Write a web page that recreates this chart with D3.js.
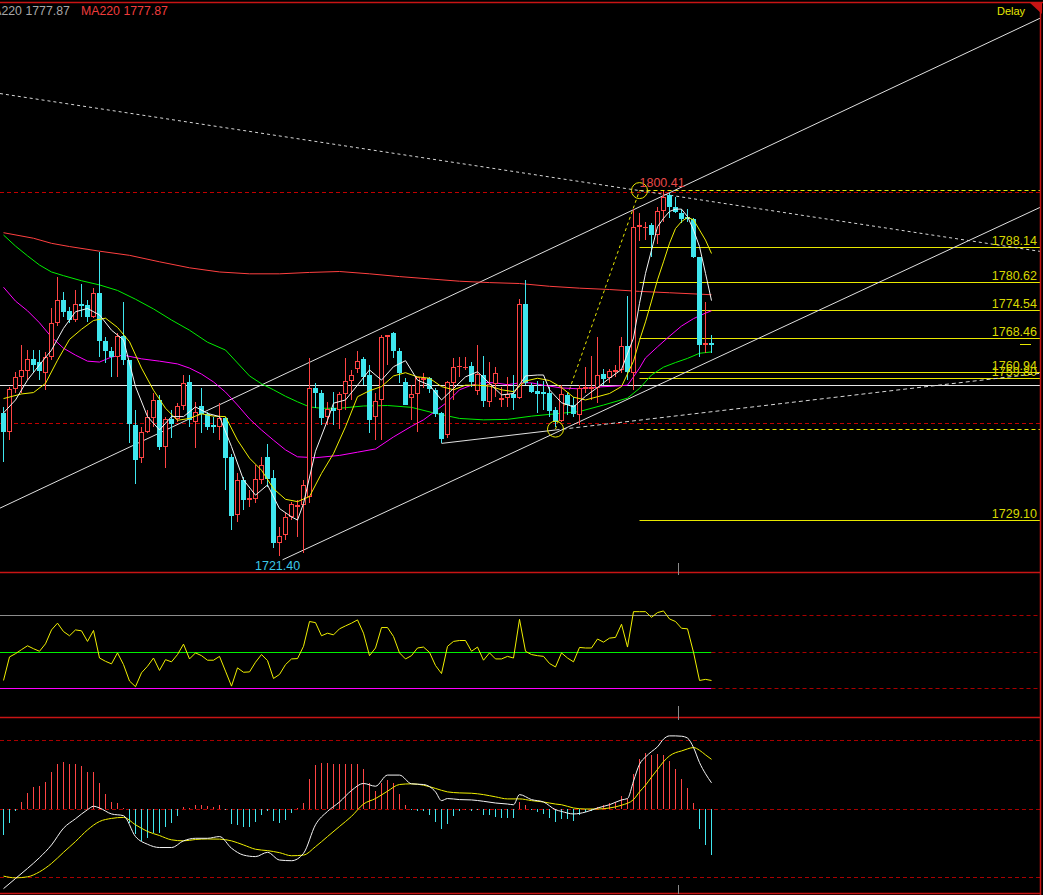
<!DOCTYPE html>
<html>
<head>
<meta charset="utf-8">
<script src="https://cdn.jsdelivr.net/npm/d3@7"></script>
<style>
  body { margin: 0; background: #000; overflow: hidden; }
  #chart { width: 1043px; height: 895px; }
  text { font-family: "Liberation Sans", Arial, sans-serif; }
</style>
</head>
<body>
<div id="chart"></div>
<script>
/*
 *  DATA BLOCK STARTS
 */
// candles, oldest first (one every bar)
var opens = [1752.2,1748.2,1757.4,1760.0,1761.4,1764.0,1763.3,1761.0,1764.5,1771.8,
    1776.7,1774.4,1772.4,1775.9,1775.7,1773.0,1778.2,1767.9,1765.7,1764.5,
    1768.9,1763.7,1749.7,1742.5,1748.1,1751.1,1755.2,1745.0,1751.0,1750.9,
    1753.9,1759.0,1750.4,1753.8,1752.1,1749.7,1749.3,1751.1,1742.8,1730.1,
    1737.7,1733.4,1733.6,1737.8,1742.8,1738.2,1724.2,1725.8,1729.7,1732.0,
    1732.3,1734.1,1757.6,1756.5,1751.5,1753.4,1752.9,1756.4,1759.1,1761.9,
    1763.9,1760.5,1751.5,1755.1,1768.8,1769.5,1765.8,1758.9,1755.6,1756.3,
    1759.4,1759.8,1757.3,1752.2,1747.5,1758.8,1762.2,1762.1,1762.4,1757.0,
    1760.6,1754.6,1758.6,1755.2,1755.6,1756.3,1755.6,1775.9,1758.2,1757.0,
    1756.9,1756.5,1752.9,1750.6,1756.2,1754.0,1751.8,1757.4,1757.5,1757.6,
    1760.7,1759.8,1761.2,1761.6,1766.8,1761.0,1792.5,1792.5,1793.0,1790.8,
    1796.1,1799.5,1796.8,1795.6,1794.6,1794.2,1786.0,1767.1,1767.5];
var highs = [1753.6,1758.0,1761.2,1767.0,1765.9,1765.9,1765.9,1765.5,1774.9,1781.8,
    1778.5,1775.3,1778.9,1780.3,1776.7,1779.3,1787.2,1768.8,1766.6,1769.5,
    1776.4,1763.7,1752.9,1749.3,1752.9,1756.5,1756.2,1751.5,1752.9,1754.4,
    1760.6,1760.5,1754.7,1757.6,1752.6,1751.5,1754.4,1751.5,1743.5,1739.2,
    1738.5,1735.6,1741.0,1742.8,1745.6,1739.9,1727.7,1730.6,1733.1,1733.4,
    1737.7,1764.1,1758.7,1757.3,1754.7,1756.9,1756.9,1764.1,1761.6,1765.6,
    1764.3,1762.7,1756.5,1769.2,1769.2,1769.9,1766.3,1759.8,1758.3,1760.1,
    1760.9,1760.1,1757.6,1752.6,1759.1,1764.1,1764.3,1764.3,1763.4,1767.0,
    1764.6,1763.4,1762.3,1757.9,1760.1,1760.5,1776.9,1781.1,1758.7,1759.1,
    1759.1,1758.0,1753.6,1758.3,1756.5,1755.8,1758.3,1762.3,1764.6,1768.8,
    1761.9,1761.7,1762.7,1768.8,1777.5,1796.4,1795.5,1793.7,1793.5,1796.9,
    1800.41,1799.8,1799.1,1796.4,1796.4,1794.4,1786.0,1776.4,1769.2];
var lows = [1741.7,1746.4,1756.5,1756.5,1759.4,1760.9,1759.4,1757.3,1763.7,1771.0,
    1773.1,1771.7,1772.0,1773.1,1772.0,1772.8,1764.5,1763.0,1760.1,1760.1,
    1762.7,1745.7,1737.0,1741.4,1747.9,1749.3,1744.3,1740.3,1746.8,1750.4,
    1752.9,1749.3,1744.6,1747.9,1748.6,1747.9,1746.4,1735.6,1726.9,1728.7,
    1731.3,1732.0,1732.7,1737.0,1736.3,1723.0,1721.4,1724.8,1729.1,1725.5,
    1721.9,1732.7,1753.3,1749.7,1749.7,1749.7,1748.9,1752.9,1755.1,1760.9,
    1758.3,1747.9,1746.4,1746.4,1762.7,1764.1,1758.7,1754.0,1750.8,1748.2,
    1757.6,1756.5,1751.5,1745.7,1746.8,1755.1,1760.1,1761.6,1757.9,1756.2,
    1753.6,1753.6,1755.8,1753.6,1753.6,1752.9,1755.4,1758.3,1756.5,1752.2,
    1752.9,1751.5,1749.3,1750.4,1751.8,1751.5,1749.7,1756.5,1755.1,1754.4,
    1758.3,1758.7,1760.1,1760.9,1759.4,1757.3,1789.4,1789.7,1786.0,1788.9,
    1793.7,1794.4,1795.6,1793.5,1793.7,1785.8,1764.3,1765.3,1765.3];
var closes = [1748.2,1757.4,1760.1,1761.6,1763.9,1762.7,1761.3,1764.5,1771.7,1776.7,
    1774.2,1772.4,1775.9,1775.5,1773.0,1778.2,1767.9,1765.8,1764.3,1768.9,
    1763.7,1749.8,1742.1,1748.2,1751.5,1755.2,1745.0,1750.9,1749.8,1753.8,
    1758.8,1750.8,1752.4,1752.0,1749.3,1749.3,1751.3,1742.5,1730.0,1737.7,
    1733.4,1733.9,1737.9,1741.0,1737.9,1724.2,1725.6,1729.8,1732.6,1732.3,
    1736.8,1757.6,1756.7,1751.3,1753.2,1752.8,1756.3,1759.2,1760.6,1763.5,
    1760.1,1750.8,1754.9,1768.8,1769.1,1765.6,1760.9,1754.1,1756.3,1760.0,
    1759.9,1757.4,1752.1,1746.6,1758.9,1762.3,1762.4,1762.3,1758.9,1760.7,
    1754.9,1758.6,1761.0,1755.6,1756.3,1755.6,1775.8,1758.7,1756.9,1756.4,
    1756.4,1752.8,1750.4,1756.3,1754.0,1752.0,1757.6,1757.8,1758.0,1760.6,
    1759.7,1761.4,1761.6,1766.8,1761.2,1792.5,1793.0,1792.6,1790.7,1796.1,
    1799.1,1796.8,1795.8,1794.3,1794.2,1786.0,1767.1,1767.5,1767.1];

// moving averages, [bar, price]
var ma5 = [[0,1752.3],[2,1755.1],[4,1759.4],[6,1762.7],[8,1765.9],[10,1770.6],[12,1774.2],[14,1774.9],
    [16,1773.5],[18,1770.2],[20,1768.1],[22,1758.0],[24,1751.5],[26,1748.6],[28,1751.5],[30,1751.5],
    [32,1753.6],[34,1752.2],[36,1751.5],[38,1745.0],[40,1737.8],[42,1734.5],[44,1736.7],[46,1731.6],
    [48,1729.8],[49,1729.1],[50,1732.7],[52,1744.0],[54,1750.7],[55,1754.4],[57,1755.1],[59,1758.3],
    [61,1761.6],[63,1759.4],[65,1762.3],[67,1763.6],[69,1759.4],[71,1758.3],[73,1755.1],[75,1757.6],
    [77,1760.1],[79,1761.2],[81,1758.7],[83,1756.2],[85,1756.5],[87,1760.3],[89,1760.5],[90,1760.5],
    [91,1757.3],[93,1754.5],[95,1753.6],[97,1755.9],[99,1757.8],[101,1759.8],[103,1761.7],[105,1768.5],
    [106,1776.0],[107,1782.5],[108,1787.5],[109,1792.6],[110,1794.4],[111,1795.9],[112,1796.4],
    [113,1796.4],[114,1794.8],[115,1791.9],[116,1788.3],[117,1782.5],[118,1776.6]];
var ma10 = [[0,1755.4],[3,1756.4],[5,1756.7],[7,1758.7],[9,1763.7],[11,1768.2],[13,1770.4],[15,1772.3],
    [17,1772.8],[19,1770.8],[21,1767.7],[23,1762.0],[25,1757.2],[27,1753.3],[29,1750.7],[31,1751.1],
    [33,1752.1],[35,1751.6],[37,1751.5],[39,1746.4],[41,1742.5],[43,1739.9],[45,1735.9],[47,1733.6],
    [49,1733.1],[51,1734.2],[53,1739.2],[55,1743.5],[57,1749.3],[59,1755.8],[61,1757.1],[63,1758.0],
    [65,1760.3],[67,1761.0],[69,1760.1],[71,1759.8],[73,1758.0],[75,1757.3],[77,1758.3],[79,1758.3],
    [81,1758.1],[83,1757.3],[85,1756.9],[87,1759.2],[89,1759.8],[91,1759.3],[93,1757.8],[95,1755.7],
    [97,1755.1],[99,1755.8],[101,1756.5],[103,1758.0],[105,1763.5],[106,1768.0],[107,1772.0],
    [108,1776.5],[109,1781.1],[110,1785.0],[111,1789.0],[112,1792.2],[113,1793.7],[114,1794.6],
    [115,1794.1],[116,1791.9],[117,1789.7],[118,1786.8]];
var ma30 = [[0,1779.5],[2,1776.5],[4,1774.4],[6,1771.8],[8,1768.7],[10,1766.3],[12,1764.8],[14,1763.5],
    [16,1763.3],[18,1764.4],[20,1764.8],[23,1764.0],[26,1763.5],[29,1762.9],[31,1762.0],[33,1760.7],
    [35,1759.0],[37,1756.8],[39,1754.0],[41,1751.0],[43,1748.6],[45,1746.4],[47,1744.3],[49,1742.8],
    [52,1742.6],[56,1743.1],[59,1743.8],[62,1744.5],[65,1747.1],[68,1749.4],[70,1750.8],[72,1752.7],
    [74,1754.7],[76,1757.3],[78,1758.3],[80,1758.9],[82,1758.8],[84,1758.4],[86,1758.8],[88,1758.8],
    [90,1758.3],[93,1757.7],[96,1757.5],[99,1757.9],[102,1758.1],[104,1758.3],[105,1760.1],[106,1762.0],
    [107,1764.2],[109,1766.6],[111,1768.9],[113,1771.1],[115,1772.7],[117,1773.9],[118,1774.4]];
var ma60 = [[0,1790.8],[2,1788.4],[4,1786.3],[6,1784.3],[8,1782.8],[10,1782.0],[13,1780.9],[16,1780.0],
    [19,1778.8],[22,1776.9],[25,1774.8],[28,1772.4],[31,1770.2],[34,1767.6],[37,1765.9],[39,1763.1],
    [41,1760.3],[43,1758.6],[45,1757.3],[47,1755.9],[49,1754.7],[51,1753.6],[53,1753.3],[56,1753.3],
    [60,1753.8],[64,1753.9],[68,1753.5],[72,1752.2],[76,1751.1],[80,1750.8],[84,1750.9],[88,1751.6],
    [92,1752.1],[96,1752.6],[100,1754.0],[104,1755.5],[106,1757.6],[108,1760.5],[110,1762.2],
    [112,1763.2],[114,1764.1],[116,1765.2],[118,1765.5]];
var ma220 = [[0,1791.3],[5,1790.1],[8,1789.0],[11,1788.3],[16,1787.3],[21,1786.4],[26,1785.0],[31,1783.7],
    [36,1782.8],[41,1782.4],[46,1782.4],[51,1782.7],[56,1782.9],[61,1782.4],[66,1781.8],[71,1781.3],
    [76,1780.8],[81,1780.5],[86,1780.3],[91,1779.7],[96,1779.3],[101,1779.0],[106,1778.6],[111,1778.3],
    [116,1778.0],[118,1777.87]];

// drawn objects on the price panel, [bar, price]
var upperChannel = [[0, 1732.05], [118, 1804.22]];
var lowerChannel = [[46.5, 1720.5], [172.8, 1796.8]];
var resistDotted = [[0, 1821.3], [106, 1800.41]];
var supportSolid = [[73, 1745.7], [92, 1748.6]];
var supportDotted = [[92, 1748.6], [172.8, 1760.87]];
var fibAnchors = [[92, 1748.79], [106, 1800.41]];
var fibLevels = [1788.14, 1780.62, 1774.54, 1768.46, 1760.94, 1759.80, 1729.10];
var fibLabels = ["1788.14", "1780.62", "1774.54", "1768.46", "1760.94", "1759.80", "1729.10"];
var fibEnds = [1800.41, 1748.79];
var redDashLevels = [1800.05, 1749.9];
var whiteLevel = 1758.27;
var lastPrice = 1767.1;

// RSI, one per bar
var rsi = [34.4,47.3,49.1,51.3,53.4,51.8,50.4,54.5,62.1,65.8,
    61.2,58.9,62.1,61.6,55.8,61.8,46.7,44.9,43.5,49.5,
    43.1,34.1,31.0,38.6,42.2,46.7,39.9,45.8,44.6,48.6,
    54.3,46.2,49.5,48.0,45.5,45.5,47.6,39.5,31.3,41.3,
    38.9,39.1,44.4,48.6,45.3,35.5,37.7,43.1,46.2,46.4,
    53.1,66.7,66.1,58.9,60.3,59.4,62.7,64.3,65.8,67.6,
    60.3,48.0,52.2,63.4,63.4,58.5,49.5,46.2,48.0,52.2,
    52.7,49.8,42.6,38.2,53.1,55.8,56.3,56.3,50.4,52.7,
    45.5,49.5,46.2,46.2,47.6,46.7,67.9,50.4,48.6,48.0,
    47.6,43.7,41.8,49.5,46.7,44.6,52.5,52.2,52.2,57.1,
    55.4,57.6,58.0,65.2,52.7,72.1,72.1,72.1,69.0,71.6,
    72.5,68.1,66.7,63.0,62.7,49.8,34.4,35.0,34.4];
var rsiLevels = [70, 50, 30];

// MACD
var macdHist = [-1.51,-0.82,-0.14,0.41,0.94,1.31,1.37,1.59,2.14,2.61,
    2.73,2.61,2.61,2.49,2.14,2.14,1.49,0.90,0.41,0.37,
    0.06,-0.82,-1.47,-1.86,-1.67,-1.41,-1.41,-1.08,-0.82,-0.43,
    0.10,0.06,0.25,0.25,0.20,0.12,0.25,-0.04,-0.86,-0.92,
    -1.08,-1.08,-0.73,-0.33,-0.14,-0.69,-0.84,-0.63,-0.25,0.06,
    0.37,1.78,2.55,2.67,2.71,2.61,2.61,2.65,2.61,2.61,
    2.31,1.49,1.08,1.49,1.67,1.49,0.90,0.25,-0.04,-0.10,
    -0.14,-0.33,-0.73,-1.18,-0.86,-0.43,-0.14,0.00,-0.10,-0.06,
    -0.33,-0.37,-0.49,-0.53,-0.53,-0.53,0.41,0.22,-0.06,-0.20,
    -0.29,-0.53,-0.76,-0.59,-0.59,-0.69,-0.33,-0.18,-0.10,0.10,
    0.25,0.37,0.41,0.73,0.57,2.06,2.90,3.25,3.14,3.20,
    3.14,2.80,2.31,1.78,1.25,0.37,-1.16,-2.10,-2.69];
var macdDif = [[0,-4.65],[2,-4.06],[4,-3.47],[6,-2.84],[8,-2.10],[10,-1.12],[12,-0.57],[14,-0.04],[15,0.16],
    [16,0.06],[18,-0.29],[20,-0.39],[22,-1.61],[24,-2.06],[26,-2.25],[28,-2.25],[30,-1.86],[32,-1.71],
    [34,-1.71],[36,-1.61],[38,-2.29],[40,-2.69],[42,-2.78],[44,-2.53],[46,-2.98],[48,-3.02],[50,-2.59],
    [52,-0.92],[54,-0.14],[56,0.41],[58,1.08],[60,1.49],[62,1.33],[64,1.98],[66,1.98],[68,1.47],
    [70,1.43],[72,1.00],[73,0.49],[74,0.61],[76,0.55],[78,0.53],[80,0.45],[82,0.35],[84,0.29],
    [85,0.25],[86,0.84],[88,0.55],[90,0.41],[92,-0.04],[93,-0.14],[95,-0.29],[97,-0.18],[99,0.06],
    [101,0.25],[103,0.53],[104,0.61],[105,1.63],[106,2.61],[107,3.04],[108,3.35],[109,3.63],[110,4.08],
    [111,4.27],[112,4.27],[113,4.25],[114,4.14],[115,3.59],[116,2.71],[117,2.06],[118,1.53]];
var macdDea = [[0,-3.92],[2,-4.02],[4,-3.96],[6,-3.67],[8,-3.18],[10,-2.53],[12,-1.90],[14,-1.22],
    [16,-0.73],[18,-0.55],[20,-0.49],[22,-0.92],[24,-1.31],[26,-1.55],[28,-1.80],[30,-1.86],[32,-1.78],
    [34,-1.75],[36,-1.76],[38,-1.86],[40,-2.10],[42,-2.35],[44,-2.43],[46,-2.55],[48,-2.73],[50,-2.69],
    [52,-2.20],[54,-1.61],[56,-1.02],[58,-0.43],[60,0.29],[62,0.61],[64,1.04],[66,1.43],[68,1.47],
    [70,1.39],[72,1.20],[74,1.00],[76,0.94],[78,0.92],[80,0.84],[82,0.71],[84,0.59],[86,0.59],
    [88,0.49],[90,0.41],[92,0.29],[93,0.25],[95,0.06],[97,0.00],[99,0.00],[101,0.06],[103,0.22],
    [105,0.55],[106,1.00],[107,1.39],[108,1.86],[109,2.31],[110,2.76],[111,3.10],[112,3.29],
    [113,3.39],[114,3.51],[115,3.59],[116,3.43],[117,3.16],[118,2.90]];
var macdLevels = [4, 0, -4];

var headerLabels = ["MA220 1777.87", "MA220 1777.87"];
var highLabel = "1800.41";
var lowLabel = "1721.40";
/*
 *  DATA BLOCK ENDS
 */

var W = 1043, H = 895;
var right_edge = 1040;
var UP = "#ff4444", DOWN = "#3fe6ee", FRAME = "#c81414", DARKRED = "#a80000";

var x_scale = d3.scaleLinear().domain([0, 118]).range([3.5, 711.5]);
var y_price = d3.scaleLinear().domain([1800.41, 1729.10]).range([190.6, 520.1]);
var y_rsi = d3.scaleLinear().domain([30, 70]).range([688.5, 615.5]);
var y_macd = d3.scaleLinear().domain([-4, 4]).range([877.5, 740.5]);

function crisp(v) { return Math.round(v - 0.5) + 0.5; }

var svg = d3.select("#chart")
    .append("svg")
        .attr("width", W)
        .attr("height", H)
        .style("background", "#000")
        .style("display", "block");

var defs = svg.append("defs");
defs.append("clipPath").attr("id", "clipMain")
    .append("rect").attr("x", 0).attr("y", 3).attr("width", right_edge).attr("height", 569);
defs.append("clipPath").attr("id", "clipMacd")
    .append("rect").attr("x", 0).attr("y", 718).attr("width", right_edge).attr("height", 176);

function hline(g, y, x0, x1, color, dash, w) {
    g.append("line")
        .attr("x1", x0).attr("x2", x1)
        .attr("y1", crisp(y)).attr("y2", crisp(y))
        .attr("stroke", color)
        .attr("stroke-width", w || 1)
        .attr("stroke-dasharray", dash || null);
}

// line through two [bar, price] anchors, stretched to given pixel x range
function extended(g, pts, x0, x1, color, dash) {
    var xa = x_scale(pts[0][0]), ya = y_price(pts[0][1]);
    var xb = x_scale(pts[1][0]), yb = y_price(pts[1][1]);
    var k = (yb - ya) / (xb - xa);
    g.append("line")
        .attr("x1", x0).attr("y1", ya + k * (x0 - xa))
        .attr("x2", x1).attr("y2", ya + k * (x1 - xa))
        .attr("stroke", color)
        .attr("stroke-width", 1)
        .attr("stroke-dasharray", dash || null);
}

function segment(g, pts, color, dash) {
    g.append("line")
        .attr("x1", x_scale(pts[0][0])).attr("y1", y_price(pts[0][1]))
        .attr("x2", x_scale(pts[1][0])).attr("y2", y_price(pts[1][1]))
        .attr("stroke", color)
        .attr("stroke-width", 1)
        .attr("stroke-dasharray", dash || null);
}

/*
 *  PRICE PANEL
 */
var main = svg.append("g").attr("clip-path", "url(#clipMain)");

// horizontal references
redDashLevels.forEach(function(p) { hline(main, y_price(p), 0, right_edge, "#c00000", "4,3"); });
hline(main, y_price(whiteLevel), 0, right_edge, "#e6e6e6");

var fibX0 = x_scale(fibAnchors[1][0]);
fibEnds.forEach(function(p) { hline(main, y_price(p), fibX0, right_edge, "#e8e800", "4,3"); });
fibLevels.forEach(function(p) { hline(main, y_price(p), fibX0, right_edge, "#e8e800"); });
hline(main, y_price(lastPrice), 1020, 1031, "#e8e800");

// trend lines
extended(main, upperChannel, 0, right_edge, "#e0e0e0");
extended(main, lowerChannel, x_scale(lowerChannel[0][0]), right_edge, "#e0e0e0");
extended(main, resistDotted, 0, right_edge, "#d8d8d8", "3,3");
segment(main, supportSolid, "#e0e0e0");
segment(main, supportDotted, "#d8d8d8", "4,3");
segment(main, fibAnchors, "#e8e800", "3,3");

// moving averages
var maLine = d3.line()
    .x(function(d) { return x_scale(d[0]); })
    .y(function(d) { return y_price(d[1]); });

[[ma220, "#ff4040"], [ma60, "#00f000"], [ma30, "#ff00ff"]].forEach(function(m) {
    main.append("path")
        .attr("d", maLine(m[0]))
        .attr("fill", "none")
        .attr("stroke", m[1])
        .attr("stroke-width", 1);
});

// candles
var bars = d3.range(opens.length).map(function(i) {
    return {i: i, o: opens[i], h: highs[i], l: lows[i], c: closes[i]};
});

var candle = main.selectAll(".candle")
    .data(bars)
    .enter()
    .append("g")
    .attr("class", "candle");

candle.each(function(d) {
    var g = d3.select(this);
    var cx = crisp(x_scale(d.i));
    var up = d.c > d.o;
    var top = Math.round(y_price(Math.max(d.o, d.c)));
    var bot = Math.round(y_price(Math.min(d.o, d.c)));
    var yh = Math.round(y_price(d.h)), yl = Math.round(y_price(d.l));
    if (bot - top < 1) bot = top + 1;
    if (up) {
        if (yh < top) g.append("line").attr("x1", cx).attr("x2", cx).attr("y1", yh).attr("y2", top).attr("stroke", UP);
        if (yl > bot) g.append("line").attr("x1", cx).attr("x2", cx).attr("y1", bot).attr("y2", yl).attr("stroke", UP);
        g.append("rect")
            .attr("x", cx - 2).attr("y", top + 0.5)
            .attr("width", 4).attr("height", Math.max(bot - top - 1, 0.01))
            .attr("fill", "#000")
            .attr("stroke", UP)
            .attr("stroke-width", 1);
    } else {
        g.append("line").attr("x1", cx).attr("x2", cx).attr("y1", yh).attr("y2", yl).attr("stroke", DOWN);
        g.append("rect")
            .attr("x", cx - 2.5).attr("y", top)
            .attr("width", 5).attr("height", bot - top)
            .attr("fill", DOWN);
    }
});

[[ma10, "#f0f000"], [ma5, "#f4f4f4"]].forEach(function(m) {
    main.append("path")
        .attr("d", maLine(m[0]))
        .attr("fill", "none")
        .attr("stroke", m[1])
        .attr("stroke-width", 1);
});

// anchor circles
fibAnchors.forEach(function(a) {
    main.append("circle")
        .attr("cx", x_scale(a[0]))
        .attr("cy", y_price(a[1]))
        .attr("r", 8)
        .attr("fill", "none")
        .attr("stroke", "#e8e800")
        .attr("stroke-width", 1);
});

// labels
main.selectAll(".fiblabel")
    .data(fibLevels)
    .enter()
    .append("text")
    .attr("class", "fiblabel")
    .attr("x", 1037)
    .attr("y", function(d) { return crisp(y_price(d)) - 2.5; })
    .attr("text-anchor", "end")
    .attr("font-size", "12.5px")
    .attr("fill", "#d8d800")
    .text(function(d, i) { return fibLabels[i]; });

main.append("text")
    .attr("x", x_scale(fibAnchors[1][0]))
    .attr("y", 187)
    .attr("font-size", "12.5px")
    .attr("fill", "#e84848")
    .text(highLabel);

main.append("text")
    .attr("x", 255)
    .attr("y", 570)
    .attr("font-size", "12.5px")
    .attr("fill", "#3cc8e8")
    .text(lowLabel);

/*
 *  RSI PANEL
 */
var rsiG = svg.append("g");
var lastX = x_scale(118);
var rsiColors = ["#8c8c8c", "#00f000", "#ff00ff"];
rsiLevels.forEach(function(v, k) {
    hline(rsiG, y_rsi(v), 0, lastX, rsiColors[k], null, 1);
    hline(rsiG, y_rsi(v), lastX, right_edge, DARKRED, "4,3");
});
rsiG.append("path")
    .attr("d", d3.line()
        .x(function(d, i) { return x_scale(i); })
        .y(function(d) { return y_rsi(d); })(rsi))
    .attr("fill", "none")
    .attr("stroke", "#f0f000")
    .attr("stroke-width", 1);

/*
 *  MACD PANEL
 */
var macdG = svg.append("g").attr("clip-path", "url(#clipMacd)");
macdLevels.forEach(function(v) { hline(macdG, y_macd(v), 0, right_edge, DARKRED, "4,3"); });

macdG.selectAll(".hist")
    .data(macdHist)
    .enter()
    .append("rect")
    .attr("class", "hist")
    .attr("x", function(d, i) { return Math.round(x_scale(i) - 0.5); })
    .attr("width", 1)
    .attr("y", function(d) { return Math.round(Math.min(y_macd(0), y_macd(d))); })
    .attr("height", function(d) { return Math.max(1, Math.round(Math.abs(y_macd(d) - y_macd(0)))); })
    .attr("fill", function(d) { return d >= 0 ? UP : DOWN; })
    .attr("shape-rendering", "crispEdges");

[[macdDea, "#f0f000"], [macdDif, "#f4f4f4"]].forEach(function(m) {
    macdG.append("path")
        .attr("d", d3.line()
            .x(function(d) { return x_scale(d[0]); })
            .y(function(d) { return y_macd(d[1]); })
            .curve(d3.curveMonotoneX)(m[0]))
        .attr("fill", "none")
        .attr("stroke", m[1])
        .attr("stroke-width", 1);
});

/*
 *  FRAME AND HEADER
 */
hline(svg, 2, 0, W, FRAME, null, 1.5);
[572, 717, 893.5].forEach(function(y) { hline(svg, y, 0, right_edge, FRAME, null, 1.5); });
svg.append("line")
    .attr("x1", 1040.5).attr("x2", 1040.5)
    .attr("y1", 2).attr("y2", H)
    .attr("stroke", FRAME).attr("stroke-width", 1.5);
svg.append("path")
    .attr("d", "M1029,2 L1042,2 L1042,14 Z")
    .attr("fill", FRAME);

// session separator ticks
var sepX = 678.5;
[[563, 575], [706, 720], [885, 894]].forEach(function(t) {
    svg.append("line")
        .attr("x1", sepX).attr("x2", sepX)
        .attr("y1", t[0]).attr("y2", t[1])
        .attr("stroke", "#8a8a8a");
});

svg.append("text")
    .attr("x", -17)
    .attr("y", 15)
    .attr("font-size", "12.3px")
    .attr("fill", "#a8a8a8")
    .text(headerLabels[0]);
svg.append("text")
    .attr("x", 81)
    .attr("y", 15)
    .attr("font-size", "12.3px")
    .attr("fill", "#f03c3c")
    .text(headerLabels[1]);
svg.append("text")
    .attr("x", 997)
    .attr("y", 15)
    .attr("font-size", "11px")
    .attr("font-family", "'Liberation Mono', 'DejaVu Sans Mono', monospace")
    .attr("fill", "#e8e800")
    .text("Delay");
</script>
</body>
</html>
